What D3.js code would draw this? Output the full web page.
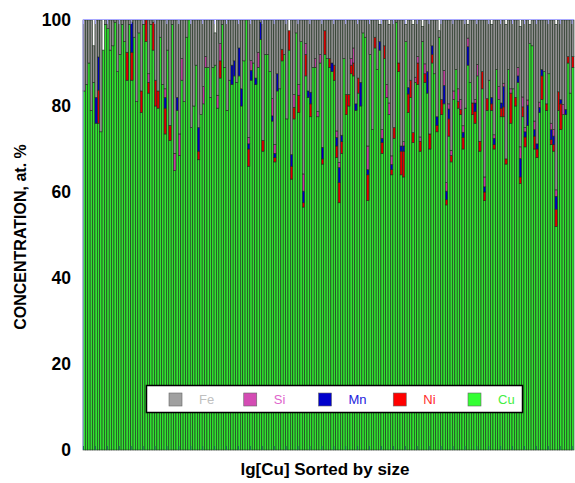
<!DOCTYPE html>
<html>
<head>
<meta charset="utf-8">
<script src="https://cdn.jsdelivr.net/npm/d3@7"></script>
<style>
  body { margin: 0; background: #fff; }
  svg { display: block; }
  text { font-family: Arial, "Liberation Sans", sans-serif; }
</style>
</head>
<body>
<svg id="chart" width="575" height="483"></svg>
<script>
// element keys, stacked bottom -> top
var keys = ["Cu", "Ni", "Mn", "Si", "Fe"]
var yTicks = [0, 20, 40, 60, 80, 100]

var cu = [83.5,85,90,79,85.5,76,76,74,93,99,98,93,94,99.5,88,92,99,95,86,99,86,96,81,97,78.5,99,95,83,99,93,80,
  79.5,96,85,73.5,93,72,99,65,79,68.5,86,81,96,100,75,80,89.5,67.5,78,80.5,89,89,82,89,89.5,79.5,86.5,99,89,79,86,85,87,
  85.5,87,80,90.5,100,66,86,90,85,89,95.5,69.5,92,92,88,76.5,67,83.5,84,90.5,92,77,93,63,77,97,78.5,95,56.5,87,82,77.5,89,89,77.5,
  90,66.5,92,91,89,88,86,68,57.5,69,91,78,80,87.5,87,79,83,80,97,96,58,92,74.5,93.5,88.5,93,69,91,82,78,64,72.5,99.5,88,64,
  63.5,95,78.5,82,71.5,85.5,85,69.5,95,85.5,83,70,90,87.5,74,96,78,80.5,57,73,67,81.5,88.5,79.5,78,70,79.5,89.5,85.5,78,76,87,69.5,84,58,79,
  86,79,70,88.5,81.5,77.5,77.5,66.5,88.5,76,84,80,85.5,62,77.5,70.5,75.5,94.5,94,70,68,78.5,81.5,88,79,87.5,71,69.5,52,79,74.5,78,78,90,83,89]

var ni = [0,0,0,0,0,0,7.7,0,0,0,0,0,0,0,0,0,0,0,6.5,0,6.5,0,0,0,5,0,5,2.5,0,6.5,6,
  4,0,0,6,0,3.5,0,0,0,0,0,0,0,0,0,0,0,2,0,0,0,0,0,0,0,0,4,0,0,0,0,0,0,
  0,0,0,0,0,4,0,0,0,0,0,2.5,0,0,0,0,1,0,0,2.7,0,0,4.5,3,2.7,0,4,0,1,5,0,3,0,0,0,
  0,1.2,5.5,0,2,0,3.5,2.7,4.7,2.7,0,4.7,2.7,2,3,0,3.5,0,0,0,6,0,0,2.5,0,0,2.5,3,0,0,1.2,2.5,0,2,5.5,
  6,0,4.3,4,2.3,0,5,2.3,0,2,0,3.5,2,0,1.5,0,3.5,0,1.2,4,1.5,0,0,1.5,1.2,2.7,0,0,0,2.7,2.7,0,2.3,4,2,2.7,
  0,1.5,1,0,0,2,2.3,1.2,0,7,0,2,0,1.5,2.3,2.3,0,0,0,3,2,0,5.5,0,1.5,0,1.2,1.5,4,4.3,6,0,0,1.5,0,2.5]

var mn = [0,0,0,0,0,6,7.7,0,0,0,0,0,0,0,0,0,0,0,0,0,7,0,0,0,0,0,0,0,0,0,0,
  0,0,0,2.5,0,0,0,0,3,0,0,0,0,0,0,0,0,5.5,0,0,0,0,0,0,0,0,0,0,0,0,0,4.5,3.5,
  0,6.5,4,0,0,1.2,2.3,0,1.5,0,4,0,0,0,0,1.2,1,4,0,0,0,0,0,2.7,0,0,0,0,2.7,0,1.5,2.7,0,0,0,
  0,2.7,0,0,0,2,0,2,3.5,1.5,0,0,0,0,0,1.5,0,5.5,0,0,1.2,0,0,0,0,2,1,0,0,0,1.2,0,0,0,1.2,
  1.2,0,1.5,0,0,0,0,0,0,0,5,0,2,0,2,0,0,4.3,2,2.3,0,0,0,0,0,1.2,0,4.3,0,0,2,0,0,0,1.2,0,
  0,1.5,1.5,0,0,1.2,4.7,0,0,0,0,0,1.5,4.3,0,1.2,4.7,0,0,1.5,1.2,1.2,1.5,0,0,0,2.3,2,3,0,1,0,1.2,0,0,0]

var si = [0,0,0,0,0,0,0,0,0,0,0,0,0,0,0,0,0,0,0,0,0,0,0,0,0,0,0,2,0,0,0,
  0,0,0,2,0,0,0,4,0,5,5,0,0,0,0,0,0,0,0,4,2.5,0,0,0,0,3,4,0,0,0,0,0,0,
  0,0,0,0,0,1.5,2.3,0,0,3.5,0,0,0,0,0,4,2,0,0,0,0,0,0,0,3,0,2.5,0,4,2.5,0,0,0,2,1.2,
  2,0,0,0,0,0,0,1.5,1.2,0,0,0,0,1.5,3.5,0,0,0,0,0,5.5,0,0,0,0,0,2,0,3,2.7,2,0,0,0,0,
  1,0,0,0,0,1.2,1.5,1,0,2.3,0,0,0,0,0,0,0,3.5,2,1.2,1.2,2,0,3,2.3,1.5,0,2,0,0,0.8,2.7,0,0,2.3,0,
  0,0,0.8,0,3,0,0.8,0,0,1,0,0,2,2.7,2.3,1,1.2,0,0,2,0,1.2,0,0,0,0,1.5,1.5,1.5,0,0,2.3,0,0,0,0]

var fe = [16.5,15,10,21,8.5,18,8.6,26,0,1,2,7,6,0.5,12,8,1,5,7.5,1,0.5,4,19,3,16.5,1,0,12.5,1,0.5,14,
  16.5,4,15,16,7,24.5,1,31,18,26.5,9,19,4,0,25,20,10.5,25,22,15.5,8.5,11,18,11,7.5,17.5,5.5,1,11,21,14,10.5,9.5,
  14.5,6.5,16,9.5,0,27.3,9.4,10,13.5,7.5,0.5,28,8,8,12,18.3,29,12.5,16,6.8,8,23,0,31.3,17.3,3,15,5,35.8,5.5,16.5,16.8,11,9,21.3,
  8,29.6,2.5,9,9,10,10.5,25.8,33.1,26.8,9,17.3,17.3,9,6.5,19.5,13.5,14.5,3,4,29.3,8,25.5,4,11.5,4,25.5,6,15,18.3,31.6,25,0.5,10,29.3,
  28.3,4,15.7,14,25.2,13.3,8.5,27.2,3.5,10.2,12,26.5,6,12.5,22.5,1.5,18.5,11.7,37.8,19.5,30.3,16.5,11.5,16,18.5,24.6,20.5,3.2,14.5,19.3,18.5,10.3,28.2,12,36.5,18.3,
  14,17,26.7,11.5,15.5,19.3,14.7,31.3,11.5,16,16,18,11,28,17.9,25,18.6,4.5,6,23.5,28.8,19.1,11.5,12,19.5,12.5,24,25.5,38.5,16.7,18.5,19.7,20.8,8.5,17,8.5]

var barColor = { Cu: "#30e230", Ni: "#e00000", Mn: "#0000c0", Si: "#c040a0", Fe: "#8e8e8e" }
var legColor = { Cu: "#33ff33", Ni: "#ff0000", Mn: "#0000cc", Si: "#d44cb4", Fe: "#a0a0a0" }
var txtColor = { Cu: "#44ee44", Ni: "#ff2a2a", Mn: "#2222dd", Si: "#e066cc", Fe: "#c0c0c0" }

var margin = { top: 20, right: 1, bottom: 33, left: 83 }
var width = 575, height = 483

var rows = cu.map(function(d, i) {
  return { id: i, Cu: d, Ni: ni[i], Mn: mn[i], Si: si[i], Fe: fe[i] }
})

var svg = d3.select("#chart")

var x = d3.scaleBand()
  .domain(rows.map(d => d.id))
  .range([margin.left, width - margin.right])
  .padding(0)

var y = d3.scaleLinear()
  .domain([0, 100])
  .range([height - margin.bottom, margin.top])

var series = d3.stack().keys(keys)(rows)

// bars
svg.append("g")
  .selectAll("g")
  .data(series)
  .join("g")
    .attr("fill", d => barColor[d.key])
  .selectAll("rect")
  .data(d => d.filter(s => s[1] - s[0] > 0))
  .join("rect")
    .attr("x", d => x(d.data.id))
    .attr("y", d => y(d[1]))
    .attr("width", x.bandwidth())
    .attr("height", d => y(d[0]) - y(d[1]))
    .attr("stroke", "#1e2e1e")
    .attr("stroke-width", 0.6)

// frame : left + top in light blue
svg.append("line")
  .attr("x1", margin.left).attr("x2", margin.left)
  .attr("y1", y(100)).attr("y2", y(0))
  .attr("stroke", "#a8a8ff").attr("stroke-width", 1)

svg.append("line")
  .attr("x1", margin.left).attr("x2", width - margin.right)
  .attr("y1", y(100) - 0.5).attr("y2", y(100) - 0.5)
  .attr("stroke", "#a8a8ff").attr("stroke-width", 1)

// x ticks every 5 bars, top and bottom
var tickIds = rows.filter(d => d.id % 5 == 0).map(d => d.id)

svg.append("g")
  .selectAll("line")
  .data(tickIds)
  .join("line")
    .attr("x1", d => x(d) + 0.5).attr("x2", d => x(d) + 0.5)
    .attr("y1", y(100)).attr("y2", y(100) + 4)
    .attr("stroke", "#a8a8ff")

svg.append("g")
  .selectAll("line")
  .data(tickIds)
  .join("line")
    .attr("x1", d => x(d) + 0.5).attr("x2", d => x(d) + 0.5)
    .attr("y1", y(0)).attr("y2", y(0) - 4)
    .attr("stroke", "#1d6a5a")

// y axis labels
var yAxis = svg.append("g")
  .attr("transform", `translate(${margin.left},0)`)
  .call(d3.axisLeft(y).tickValues(yTicks).tickSize(0).tickPadding(12))

yAxis.select(".domain").remove()
yAxis.selectAll("text")
  .attr("font-size", 17.5)
  .attr("font-weight", "bold")
  .attr("font-family", "Arial, 'Liberation Sans', sans-serif")
  .attr("fill", "#000")

// axis titles
svg.append("text")
  .attr("transform", `translate(26,${(y(0) + y(100)) / 2 + 2}) rotate(-90)`)
  .attr("text-anchor", "middle")
  .attr("font-size", 16)
  .attr("font-weight", "bold")
  .text("CONCENTRATION, at. %")

svg.append("text")
  .attr("x", 325)
  .attr("y", 475)
  .attr("text-anchor", "middle")
  .attr("font-size", 17)
  .attr("font-weight", "bold")
  .text("lg[Cu] Sorted by size")

// legend
var legKeys = keys.slice().reverse()
var lx = d3.scalePoint().domain(legKeys).range([169, 468])

var legend = svg.append("g")

legend.append("rect")
  .attr("x", 146.5).attr("y", 385.5)
  .attr("width", 376).attr("height", 27)
  .attr("fill", "#fff")
  .attr("stroke", "#000")
  .attr("stroke-width", 1.5)

var item = legend.selectAll(".leg")
  .data(legKeys)
  .join("g")
    .attr("class", "leg")
    .attr("transform", d => `translate(${lx(d)},393)`)

item.append("rect")
  .attr("width", 13).attr("height", 13)
  .attr("fill", d => legColor[d])
  .attr("stroke", "#666")
  .attr("stroke-width", 0.6)

item.append("text")
  .attr("x", 30)
  .attr("y", 11)
  .attr("font-size", 13)
  .attr("fill", d => txtColor[d])
  .text(d => d)
</script>
</body>
</html>
